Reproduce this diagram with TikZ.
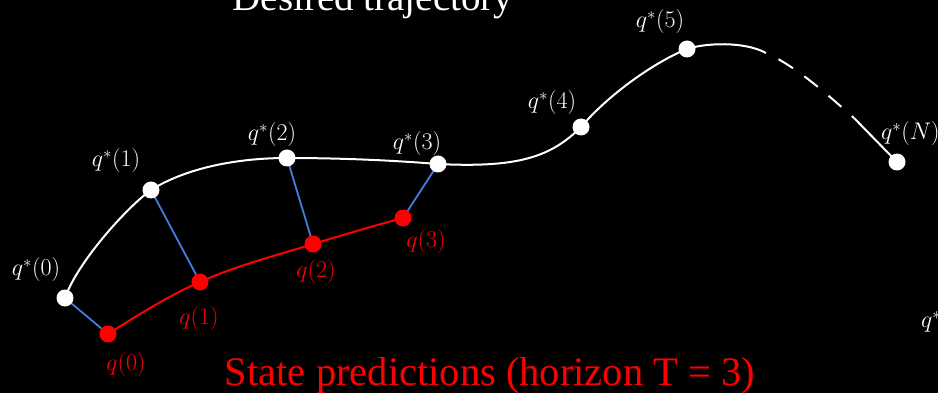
\RequirePackage{fix-cm}
\documentclass[tikz,border=0pt]{standalone}
\usepackage{fontspec}
\setmainfont{Liberation Serif}
\usepackage{tikz}
\usetikzlibrary{positioning,backgrounds}
\definecolor{linkblue}{RGB}{66,126,222}
\tikzset{
  traj/dot/.style={circle, fill=white, inner sep=0pt, minimum size=17pt},
  traj/pred/.style={circle, fill=red, inner sep=0pt, minimum size=17pt},
  traj/lbl/.style={text=white, inner sep=0pt, font=\fontsize{24}{28}\selectfont},
  traj/plbl/.style={text=red, inner sep=0pt, font=\fontsize{24}{28}\selectfont},
  traj/line/.style={white, line width=2pt},
  traj/predline/.style={red, line width=2pt},
  traj/link/.style={linkblue, line width=1.8pt}
}

\begin{document}
\begin{tikzpicture}[x=1pt, y=-1pt]
  \useasboundingbox (0,0) rectangle (938,393);
  \clip (0,0) rectangle (938,393);
  \begin{scope}[on background layer]
    \fill[black] (0,0) rectangle (938,393);
  \end{scope}

  % Desired trajectory points
  \node[traj/dot] (s0) at (65,298) {};
  \node[traj/dot] (s1) at (151,190) {};
  \node[traj/dot] (s2) at (287,158) {};
  \node[traj/dot] (s3) at (438,164) {};
  \node[traj/dot] (s4) at (581,127) {};
  \node[traj/dot] (s5) at (687,49) {};
  \node[traj/dot] (sN) at (897,162) {};
  \coordinate (d1) at (766,53);
  \coordinate (d2) at (854,118);

  % Predicted states
  \node[traj/pred] (p0) at (108,334) {};
  \node[traj/pred] (p1) at (200,282) {};
  \node[traj/pred] (p2) at (313,244) {};
  \node[traj/pred] (p3) at (403,218) {};

  % Labels
  \node[traj/lbl] (ls0) at (36,270) {$q^{*}(0)$};
  \node[traj/lbl] (ls1) at (116,161) {$q^{*}(1)$};
  \node[traj/lbl] (ls2) at (272,135) {$q^{*}(2)$};
  \node[traj/lbl] (ls3) at (417,144) {$q^{*}(3)$};
  \node[traj/lbl] (ls4) at (552,103) {$q^{*}(4)$};
  \node[traj/lbl] (ls5) at (660,22) {$q^{*}(5)$};
  \node[traj/lbl, anchor=west] (lsN) at (881,134) {$q^{*}(N)$};
  \node[traj/lbl, anchor=west] (lcut) at (921,322) {$q^{*}$};
  \node[traj/plbl] (lp0) at (126,364) {$q(0)$};
  \node[traj/plbl] (lp1) at (199,319) {$q(1)$};
  \node[traj/plbl] (lp2) at (316,272) {$q(2)$};
  \node[traj/plbl] (lp3) at (426,242) {$q(3)$};

  \node[text=white, anchor=base, inner sep=0pt, font=\fontsize{39}{42}\selectfont] (title) at (373,11) {Desired trajectory};
  \node[text=red, anchor=base, inner sep=0pt, font=\fontsize{40.5}{44}\selectfont] (horizon) at (490,385) {State predictions (horizon T = 3)};

  \begin{scope}[on background layer]
    % reference curve
    \draw[traj/line] (s0.center) .. controls +(12,-35) and +(-25,18) .. (s1.center)
      .. controls +(35,-22) and +(-50,0) .. (s2.center)
      .. controls +(50,0) and +(-50,-4) .. (s3.center)
      .. controls +(80,4) and +(-30,30) .. (s4.center)
      .. controls +(30,-35) and +(-30,12) .. (s5.center)
      .. controls +(18,-6) and +(-22,-12) .. (d1);
    \draw[traj/line, dash pattern=on 17pt off 14pt, dash phase=17pt] (d1) .. controls +(30,13) and +(-25,-22) .. (d2);
    \draw[traj/line] (d2) -- (sN.center);

    % prediction
    \draw[traj/predline] (p0.center) .. controls +(30,-19) and +(-30,13) .. (p1.center)
      .. controls +(35,-16) and +(-35,11) .. (p2.center)
      .. controls +(30,-9) and +(-30,8) .. (p3.center);

    \draw[traj/link] (s0.center) -- (p0.center);
    \draw[traj/link] (s1.center) -- (p1.center);
    \draw[traj/link] (s2.center) -- (p2.center);
    \draw[traj/link] (s3.center) -- (p3.center);
  \end{scope}
\end{tikzpicture}
\end{document}
